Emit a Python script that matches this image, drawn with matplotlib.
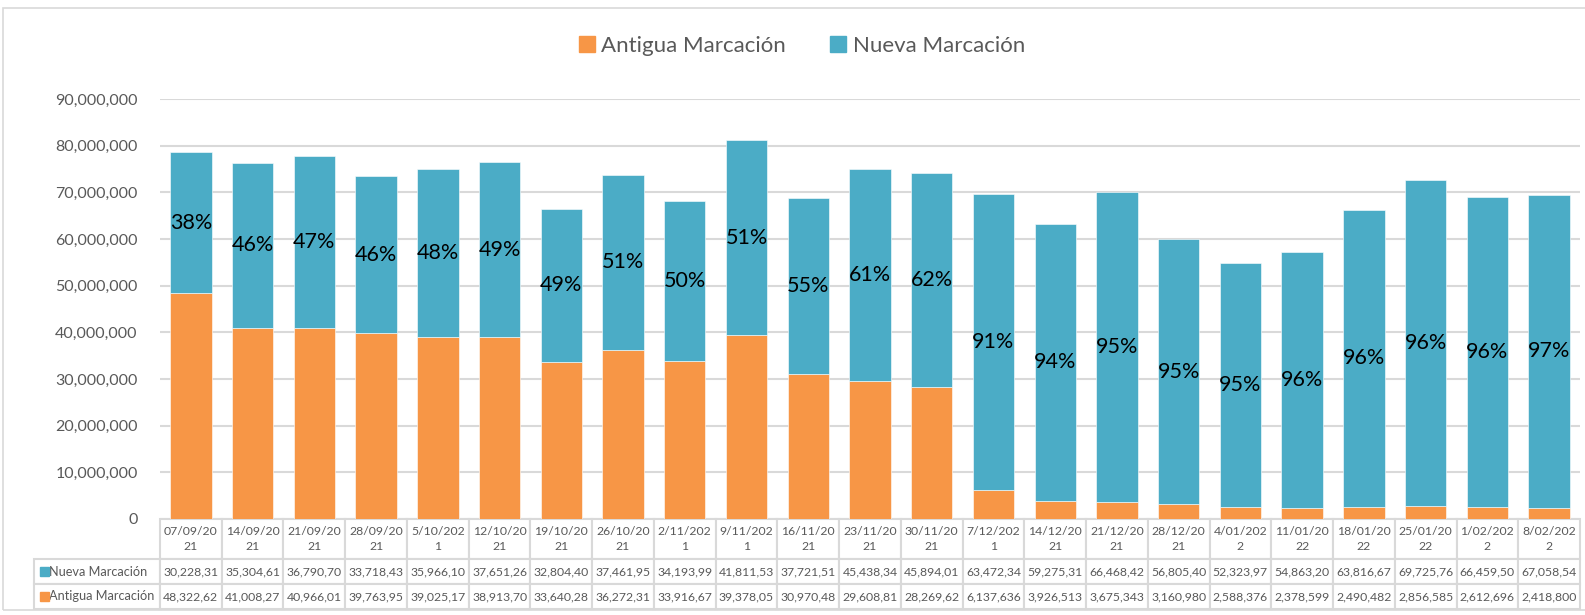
import matplotlib.pyplot as plt
from matplotlib.patches import Patch, Rectangle
import numpy as np

plt.rcParams['font.family'] = ['Lato', 'DejaVu Sans']

fechas = ["07/09/2021", "14/09/2021", "21/09/2021", "28/09/2021", "5/10/2021",
          "12/10/2021", "19/10/2021", "26/10/2021", "2/11/2021", "9/11/2021",
          "16/11/2021", "23/11/2021", "30/11/2021", "7/12/2021", "14/12/2021",
          "21/12/2021", "28/12/2021", "4/01/2022", "11/01/2022", "18/01/2022",
          "25/01/2022", "1/02/2022", "8/02/2022"]

nueva = [30228310, 35304610, 36790700, 33718430, 35966100, 37651260, 32804400,
         37461950, 34193990, 41811530, 37721510, 45438340, 45894010, 63472340,
         59275310, 66468420, 56805400, 52323970, 54863200, 63816670, 69725760,
         66459500, 67058540]

antigua = [48322620, 41008270, 40966010, 39763950, 39025170, 38913700, 33640280,
           36272310, 33916670, 39378050, 30970480, 29608810, 28269620, 6137636,
           3926513, 3675343, 3160980, 2588376, 2378599, 2490482, 2856585,
           2612696, 2418800]

C_ANT = '#F79646'
C_NUE = '#4BACC6'
GRIS = '#595959'
LINEA = '#D9D9D9'

W, H = 1585, 615
fig = plt.figure(figsize=(W / 100, H / 100), dpi=100)
ax = fig.add_axes([160 / W, 1 - 519 / H, 1420 / W, 420 / H])

x = np.arange(len(fechas))
ant = np.array(antigua)
nue = np.array(nueva)
ax.bar(x, ant, width=0.67, color=C_ANT, edgecolor='white', linewidth=0.4, zorder=3)
ax.bar(x, nue, width=0.67, bottom=ant, color=C_NUE, edgecolor='white', linewidth=0.4, zorder=3)

pct = nue / (nue + ant) * 100
for i in range(len(x)):
    ax.text(x[i], ant[i] + nue[i] / 2, f"{pct[i]:.0f}%", ha='center', va='center',
            fontsize=15.5, color='black', zorder=4)

ax.set_xlim(-0.5, len(x) - 0.5)
ax.set_ylim(0, 90000000)
ax.set_yticks(np.arange(0, 90000001, 10000000))
ax.set_yticklabels([f"{int(v):,}" for v in ax.get_yticks()])
ax.tick_params(axis='y', length=0, labelsize=11.5, labelcolor=GRIS, pad=16)
ax.set_xticks([])
ax.grid(axis='y', color=LINEA, linewidth=1.5, zorder=0)
for s in ax.spines.values():
    s.set_visible(False)

# tabla de datos: la primera columna lleva los nombres de las series
col_labels = [""] + [f[:8] + "\n" + f[8:] for f in fechas]
cell_text = [["Nueva Marcación"] + [f"{v:,}"[:9] for v in nueva],
             ["Antigua Marcación"] + [f"{v:,}"[:9] for v in antigua]]
tabla = ax.table(cellText=cell_text, colLabels=col_labels, cellLoc='center',
                 bbox=[-126 / 1420, -90 / 420, 1546 / 1420, 90 / 420])
tabla.auto_set_font_size(False)
for (r, c), cell in tabla.get_celld().items():
    cell.set_edgecolor(LINEA)
    cell.set_linewidth(1.5)
    cell.get_text().set_color(GRIS)
    cell.get_text().set_fontsize(8.8)
    cell.set_width(126 if c == 0 else 61.74)
    cell.set_height(40 if r == 0 else 25)
    if c == 0:
        cell._loc = 'left'
        cell.get_text().set_horizontalalignment('left')
        cell.get_text().set_fontsize(9.2)
        cell.PAD = 0.12
        if r == 0:
            cell.visible_edges = ''
    if r == 0:
        cell.get_text().set_linespacing(1.35)

# cuadros de color en las etiquetas de fila
fig.add_artist(Rectangle((40 / W, 1 - 576 / H), 9 / W, 9 / H, color=C_NUE, transform=fig.transFigure))
fig.add_artist(Rectangle((40 / W, 1 - 601 / H), 9 / W, 9 / H, color=C_ANT, transform=fig.transFigure))

# marco exterior
fig.add_artist(Rectangle((3 / W, 1 - 610 / H), 1.2, 602 / H, fill=False, edgecolor=LINEA,
                         linewidth=1.2, transform=fig.transFigure))

handles = [Patch(color=C_ANT, label="Antigua Marcación"), Patch(color=C_NUE, label="Nueva Marcación")]
fig.legend(handles=handles, loc='center', bbox_to_anchor=(802 / W, 1 - 46 / H), ncol=2,
           frameon=False, fontsize=16, labelcolor=GRIS, handlelength=0.7, handleheight=0.7,
           handletextpad=0.3, columnspacing=2.0)

fig.savefig("out.png", dpi=100)
